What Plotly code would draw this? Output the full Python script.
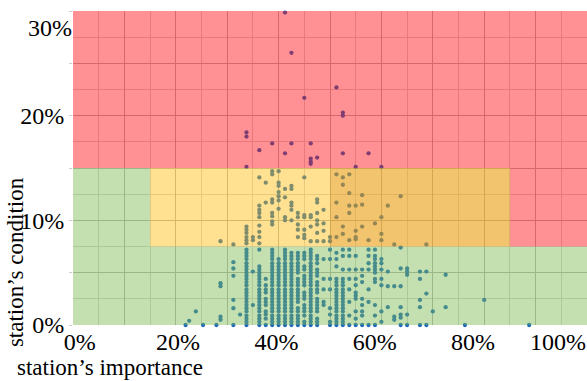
import plotly.graph_objects as go

# ---------------- data (percent) ----------------
col_importance = [21.9, 22.6, 23.9, 25.3, 27.9, 28.7, 31.2, 32.5, 33.75, 35.0,
                  36.25, 37.5, 38.75, 40.0, 41.25, 42.5, 43.75, 45.0, 46.25, 47.5,
                  48.75, 50.0, 51.25, 52.5, 53.75, 55.0, 56.25, 57.5, 58.75, 60.0,
                  61.25, 62.5, 63.75, 65.0, 67.5, 68.75, 70.0, 72.5, 76.25, 80.0,
                  88.75]

col_condition = [
    [0],
    [0.4],
    [1.3],
    [0],
    [0],
    [0.5, 0.8, 3.7, 4.0, 8.0],
    [0, 1.6, 2.4, 4.7, 5.4, 6.0, 7.7],
    [1.0],
    [0, 0.3, 0.6, 0.9, 1.3, 1.6, 1.9, 2.2, 2.5, 2.8, 3.1, 3.4, 3.8, 4.1, 4.4, 4.7, 5.0,
     5.3, 5.6, 5.9, 6.3, 6.6, 6.9, 7.2, 7.8, 8.1, 8.4, 8.8, 9.1, 9.4, 15.1, 18.0, 18.4],
    [1.9, 5.1, 8.1, 8.4],
    [0, 0.3, 0.6, 0.9, 1.3, 1.6, 1.9, 2.2, 2.5, 2.8, 3.1, 3.4, 3.8, 4.1, 4.4, 4.7, 5.0,
     5.3, 5.6, 7.2, 7.8, 8.4, 8.9, 9.5, 10.3, 10.7, 11.0, 11.4, 14.1, 16.7],
    [0, 0.6, 1.0, 1.3, 1.9, 2.2, 2.5, 3.1, 3.4, 3.8, 4.4, 11.7, 13.6],
    [0, 0.3, 0.6, 0.9, 1.3, 1.6, 1.9, 2.2, 2.5, 2.8, 3.1, 3.4, 3.8, 4.1, 4.4, 4.7, 5.0,
     5.3, 5.6, 5.9, 6.3, 6.6, 6.9, 7.2, 9.6, 9.9, 10.4, 10.7, 11.7, 12.0, 14.4, 14.7, 17.35],
    [0, 0.3, 0.6, 0.9, 1.3, 1.6, 1.9, 2.2, 2.5, 2.8, 3.1, 3.4, 3.8, 4.1, 4.4, 4.7, 5.0,
     5.3, 5.6, 5.9, 6.3, 11.1, 11.9, 12.3, 12.7, 13.3, 13.6, 14.7],
    [0, 0.3, 0.6, 0.9, 1.3, 1.6, 1.9, 2.2, 2.5, 2.8, 3.1, 3.4, 3.8, 4.1, 4.4, 4.7, 5.0,
     5.3, 5.6, 5.9, 6.3, 6.6, 6.9, 7.2, 10.0, 10.3, 12.2, 13.0, 16.4, 29.85],
    [0, 0.3, 0.6, 0.9, 1.3, 1.6, 1.9, 2.2, 2.5, 2.8, 3.1, 3.4, 3.8, 4.1, 4.4, 4.7, 5.0,
     5.3, 5.6, 5.9, 6.3, 6.6, 6.9, 10.0, 11.0, 11.4, 11.7, 13.0, 13.3, 17.35, 26.0],
    [0, 0.3, 0.6, 0.9, 1.3, 1.6, 2.2, 2.5, 2.8, 3.1, 3.4, 3.8, 4.1, 4.4, 5.0,
     5.3, 5.6, 5.9, 6.3, 6.6, 6.9, 8.4, 9.1, 9.6, 10.3, 10.7],
    [0, 0.3, 0.9, 1.3, 1.6, 1.9, 2.5, 2.8, 3.1, 3.8, 4.1, 4.4, 4.7, 5.3,
     5.6, 6.3, 6.6, 6.9, 8.3, 8.6, 9.1, 10.3, 10.5, 14.1, 21.7],
    [0, 0.3, 0.6, 0.9, 1.3, 1.6, 1.9, 2.2, 2.5, 2.8, 3.1, 3.4, 3.8, 4.1, 4.4, 4.7, 5.0,
     5.3, 5.6, 5.9, 6.3, 6.6, 6.9, 7.2, 8.0, 9.4, 10.3, 10.5, 15.4, 15.6, 15.9, 17.35],
    [0, 0.3, 0.6, 1.3, 1.6, 1.9, 2.2, 2.5, 3.1, 3.4, 3.8, 4.1, 4.7, 5.0,
     5.3, 5.9, 6.3, 6.6, 8.0, 8.8, 9.6, 10.0, 10.7, 11.7, 12.0, 16.0],
    [1.9, 2.2, 3.4, 4.4, 6.3, 8.0, 9.0, 9.7, 11.0],
    [0, 0.3, 1.0, 1.6, 3.4, 4.4, 6.3, 7.2, 8.0, 8.4],
    [0, 0.3, 0.6, 0.9, 1.3, 1.6, 1.9, 2.2, 2.5, 2.8, 3.1, 3.4, 3.8, 4.1, 4.4, 5.6, 6.3,
     6.9, 8.4, 10.3, 11.7, 14.4, 22.7],
    [0, 0.3, 0.6, 0.9, 1.3, 1.6, 1.9, 2.2, 2.5, 2.8, 3.1, 3.4, 3.8, 4.1, 4.4, 5.3, 6.6,
     7.2, 8.7, 9.4, 13.4, 14.1, 16.4, 20.0, 20.3],
    [0, 0.9, 2.2, 3.4, 4.4, 5.3, 6.6, 7.2, 8.1, 10.7, 11.4, 12.6, 14.4],
    [0, 0.6, 1.3, 2.5, 2.8, 3.1, 3.8, 4.4, 5.3, 6.6, 8.2, 8.4, 9.0, 11.4, 15.1],
    [0, 0.9, 1.3, 1.9, 2.5, 4.1, 4.7, 5.3, 9.4, 11.5, 12.4],
    [0, 2.2, 3.4, 5.3, 5.9, 6.6, 7.2, 8.1, 16.4],
    [0, 0.9, 1.9, 4.1, 4.4, 5.0, 5.3, 5.6, 5.9, 6.3, 6.6, 7.2, 9.7],
    [0.3, 1.3, 3.8, 4.4, 5.3, 5.9, 6.3, 8.1, 8.7, 10.3, 15.1],
    [1.7, 3.7, 5.1, 11.4],
    [0.5, 0.8, 3.7, 7.7],
    [0, 0.7, 1.0, 1.7, 3.7, 5.4, 7.4, 12.3],
    [0, 1.0, 4.8, 5.1, 5.4],
    [0, 1.7, 2.4, 4.4, 5.1],
    [0, 3.0, 5.1, 7.7],
    [1.3],
    [1.7, 4.8],
    [0],
    [2.4],
    [0],
]

# zone thresholds (percent)
importance_cuts = [0, 15, 50, 85, 100]
condition_cuts = [0, 7.5, 15, 30]

x_tick_vals = [0, 10, 20, 30, 40, 50, 60, 70, 80, 90, 100]
x_tick_text = ["0%", "20%", "40%", "60%", "80%"]
x_tick_text_vals = [0, 20, 40, 60, 80]
x_last_text = ["100%"]
y_tick_vals = [0, 5, 10, 15, 20, 25, 30]
y_tick_text = ["0%", "", "10%", "", "20%", "", ""]
y_top_text = ["30%"]

# ---------------- expand columns ----------------
importance, condition = [], []
for xv, ys in zip(col_importance, col_condition):
    for yv in ys:
        importance.append(xv)
        condition.append(yv)

GREEN = "rgba(126,186,79,0.45)"
YELLOW = "rgba(255,188,10,0.45)"
ORANGE = "rgba(233,157,13,0.60)"
RED = "rgba(255,10,20,0.45)"
DOT = "rgb(24,102,190)"
FONT = "Liberation Serif"
TICKFONT = dict(family=FONT, size=24, color="black")

ic, cc = importance_cuts, condition_cuts


def path(pts):
    return "M " + " L ".join(f"{a},{b}" for a, b in pts) + " Z"


zones = [
    (GREEN, [(ic[0], cc[0]), (ic[4], cc[0]), (ic[4], cc[1]), (ic[1], cc[1]),
             (ic[1], cc[2]), (ic[0], cc[2])]),
    (YELLOW, [(ic[1], cc[1]), (ic[2], cc[1]), (ic[2], cc[2]), (ic[1], cc[2])]),
    (ORANGE, [(ic[2], cc[1]), (ic[3], cc[1]), (ic[3], cc[2]), (ic[2], cc[2])]),
    (RED, [(ic[3], cc[1]), (ic[4], cc[1]), (ic[4], cc[3]), (ic[0], cc[3]),
           (ic[0], cc[2]), (ic[3], cc[2])]),
]

fig = go.Figure()
fig.add_trace(go.Scatter(
    x=importance, y=condition, mode="markers",
    marker=dict(size=4.3, color=DOT, line=dict(width=0)),
    cliponaxis=False, showlegend=False, hoverinfo="skip",
))

for color, pts in zones:
    fig.add_shape(type="path", path=path(pts), xref="x", yref="y",
                  fillcolor=color, line=dict(width=0), layer="above")

common = dict(automargin=False, zeroline=False, showline=False)

fig.update_layout(
    width=587, height=381, autosize=False,
    margin=dict(l=73, r=0, t=11, b=56, autoexpand=False),
    paper_bgcolor="white", plot_bgcolor="white",
    font=dict(family=FONT, size=24, color="black"),
    xaxis=dict(range=[0, 100], tickvals=x_tick_vals, showticklabels=False,
               showgrid=True, gridcolor="rgb(180,180,180)", gridwidth=1,
               minor=dict(tickmode="linear", tick0=0, dtick=5, showgrid=True,
                          gridcolor="rgb(214,214,214)"), **common),
    xaxis2=dict(range=[-1.36, 103.17], overlaying="x", anchor="y", side="bottom",
                tickvals=x_tick_text_vals, ticktext=x_tick_text,
                showgrid=False, tickfont=TICKFONT, **common),
    xaxis3=dict(range=[0, 100], overlaying="x", anchor="y", side="bottom",
                tickvals=[100], ticktext=x_last_text, ticklabelshift=-29,
                showgrid=False, tickfont=TICKFONT, **common),
    yaxis=dict(range=[0, 30], tickvals=y_tick_vals, ticktext=y_tick_text,
               ticks="outside", ticklen=3, tickcolor="rgb(200,205,215)",
               showgrid=True, gridcolor="rgb(180,180,180)", gridwidth=1,
               tickfont=TICKFONT,
               minor=dict(tickmode="linear", tick0=0, dtick=2.5, showgrid=True,
                          gridcolor="rgb(214,214,214)"), **common),
    yaxis2=dict(range=[0, 30], overlaying="y", anchor="x", side="left",
                tickvals=[30], ticktext=y_top_text, ticklabelposition="outside bottom",
                showgrid=False, tickfont=TICKFONT, **common),
)

# invisible traces so that the overlay label axes are drawn
fig.add_trace(go.Scatter(x=[None], y=[None], xaxis="x2", yaxis="y2",
                         showlegend=False, hoverinfo="skip"))
fig.add_trace(go.Scatter(x=[None], y=[None], xaxis="x3", yaxis="y",
                         showlegend=False, hoverinfo="skip"))

fig.add_annotation(text="station’s importance", xref="paper", yref="paper",
                   x=-0.113, y=-0.134, xanchor="left", yanchor="middle",
                   showarrow=False, font=dict(family=FONT, size=23, color="black"))
fig.add_annotation(text="station’s condition", xref="paper", yref="paper",
                   x=-0.113, y=0.2, xanchor="center", yanchor="middle", textangle=-90,
                   showarrow=False, font=dict(family=FONT, size=23, color="black"))

fig.write_html(
    "out.html",
    config={"responsive": False, "displayModeBar": False},
    post_script=(
        "document.body.style.margin='0';"
        "document.body.style.padding='0';"
        "document.body.style.overflow='hidden';"
        "var gd=document.getElementById('{plot_id}');"
        "Plotly.relayout(gd,{width:587,height:381});"
    ),
)
